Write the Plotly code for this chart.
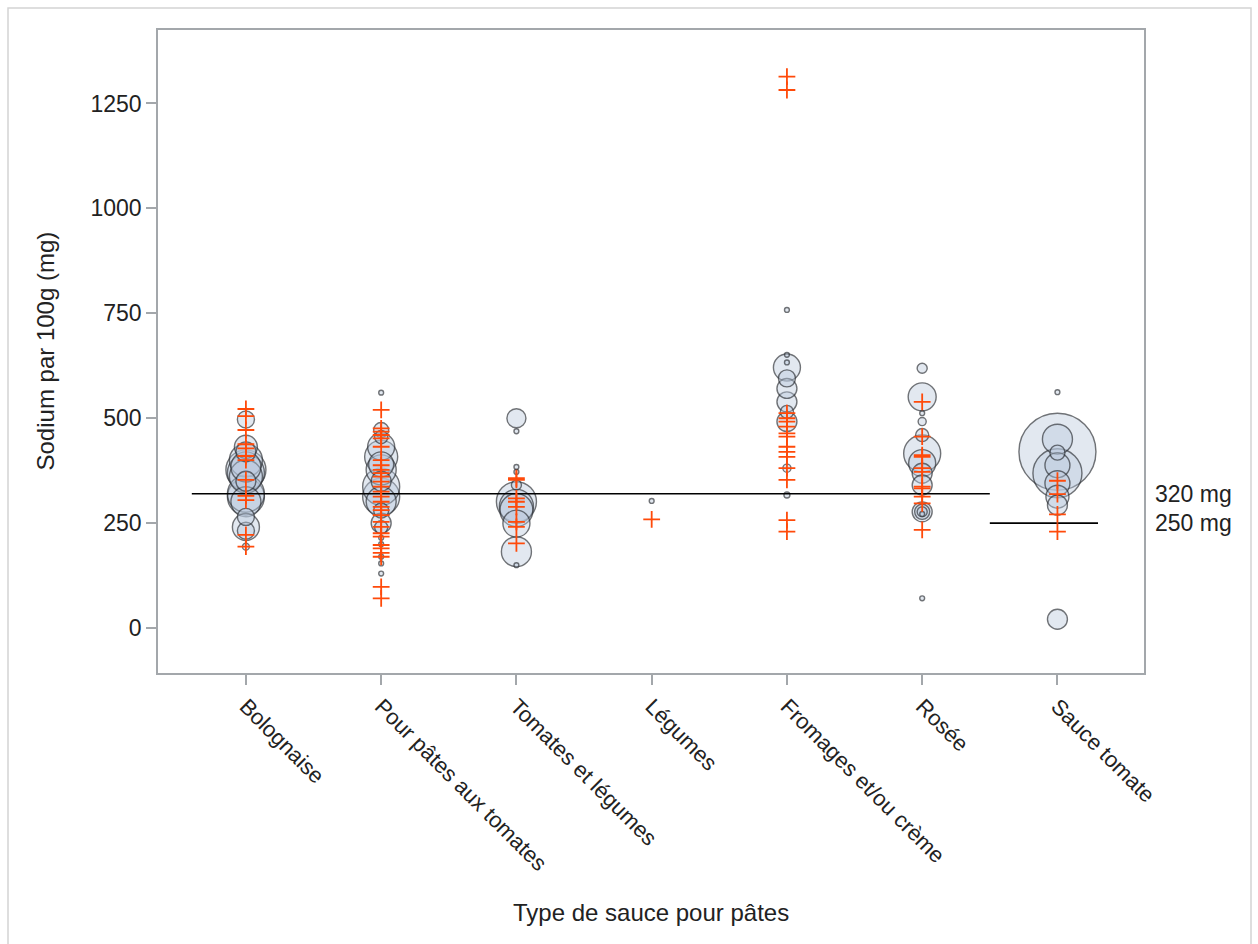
import numpy as np
import plotly.graph_objects as go

# ---------------- data ----------------
categories = ["Bolognaise", "Pour pâtes aux tomates", "Tomates et légumes", "Légumes",
              "Fromages et/ou crème", "Rosée", "Sauce tomate"]

# bubble series: sodium (mg/100g) and volume (relative, bubble area)
bub_bolognaise = [497, 432, 420, 400, 384, 377, 370, 361, 350, 320, 313, 301, 265, 241, 232, 194]
vol_bolognaise = [4.9, 8.9, 6.7, 18.4, 15.2, 27, 23.1, 18.4, 6.7, 23.1, 23.1, 15.2, 4.9, 12.3, 4.9, 0.8]

bub_tomates = [561, 472, 455, 432, 408, 390, 377, 350, 337, 313, 301, 280, 250, 240, 215, 200, 170, 154, 130]
vol_tomates = [0.4, 3.8, 2.9, 12.3, 18.4, 10.5, 15.2, 6.7, 23.1, 23.1, 15.2, 3.8, 6.7, 2.9, 0.4, 0.4, 0.4, 0.4, 0.4]

bub_tom_leg = [500, 469, 384, 372, 341, 301, 290, 281, 249, 182, 150]
vol_tom_leg = [6.1, 0.4, 0.4, 0.4, 1.7, 27, 19.5, 18.4, 12.3, 15.2, 0.4]

bub_legumes = [303]
vol_legumes = [0.4]

bub_fromages = [758, 651, 633, 621, 595, 571, 539, 515, 492, 381, 317]
vol_fromages = [0.4, 0.4, 0.4, 12.3, 4.9, 6.7, 6.7, 2.9, 6.7, 1.1, 0.6]

bub_rosee = [619, 551, 512, 492, 460, 416, 393, 369, 341, 277, 277, 277, 272, 71]
vol_rosee = [1.7, 13.2, 0.4, 1.1, 2.9, 23.1, 12.3, 6.7, 6.7, 6.7, 3.8, 1.7, 0.4, 0.4]

bub_sauce = [562, 420, 450, 418, 388, 369, 345, 313, 293, 21]
vol_sauce = [0.4, 100, 15.2, 3.8, 10.5, 40.5, 10.5, 8.9, 6.7, 6.7]

# cross series: sodium (mg/100g)
pts_bolognaise = [522, 505, 472, 438, 428, 410, 400, 353, 315, 305, 222, 194]
pts_tomates = [520, 476, 468, 460, 452, 432, 400, 388, 377, 369, 361, 349, 337, 325, 313,
               301, 289, 281, 269, 253, 241, 226, 218, 198, 190, 179, 170, 98, 71]
pts_tom_leg = [357, 353, 309, 301, 289, 253, 241, 202]
pts_legumes = [259]
pts_fromages = [1314, 1282, 512, 500, 492, 480, 464, 456, 432, 420, 408, 381, 353, 257, 230]
pts_rosee = [539, 456, 412, 408, 381, 372, 337, 333, 313, 297, 234]
pts_sauce = [351, 319, 271, 230]

ref_general = 320
ref_sauce = 250
y_ticks = [0, 250, 500, 750, 1000, 1250]

bubbles = [bub_bolognaise, bub_tomates, bub_tom_leg, bub_legumes, bub_fromages, bub_rosee, bub_sauce]
volumes = [vol_bolognaise, vol_tomates, vol_tom_leg, vol_legumes, vol_fromages, vol_rosee, vol_sauce]
points = [pts_bolognaise, pts_tomates, pts_tom_leg, pts_legumes, pts_fromages, pts_rosee, pts_sauce]

# ---------------- figure ----------------
FONT = "Liberation Sans, Arial, sans-serif"
TXT = "#222222"
AX = "#a3a7ab"
K = 7.7  # diameter scale

fig = go.Figure()

bx, by, bs = [], [], []
for i, (ys, vs) in enumerate(zip(bubbles, volumes)):
    bx += [i] * len(ys)
    by += ys
    bs += [K * np.sqrt(v) for v in vs]
order = np.argsort(bs)[::-1]
fig.add_trace(go.Scatter(
    x=[bx[j] for j in order], y=[by[j] for j in order], mode="markers",
    marker=dict(size=[bs[j] for j in order], sizemode="diameter", sizeref=1,
                color="rgba(187,202,222,0.6)", line=dict(color="#33373d", width=1.4)),
    hoverinfo="skip", showlegend=False))

# reference lines
fig.add_trace(go.Scatter(x=[-0.4, 5.5], y=[ref_general, ref_general], mode="lines",
                         line=dict(color="black", width=1.6), showlegend=False, hoverinfo="skip"))
fig.add_trace(go.Scatter(x=[5.5, 6.3], y=[ref_sauce, ref_sauce], mode="lines",
                         line=dict(color="black", width=1.6), showlegend=False, hoverinfo="skip"))

px_, py_ = [], []
for i, ys in enumerate(points):
    px_ += [i] * len(ys)
    py_ += ys
fig.add_trace(go.Scatter(
    x=px_, y=py_, mode="markers",
    marker=dict(symbol="cross-thin", size=12, line=dict(color="#ff4a0a", width=1.8)),
    showlegend=False, hoverinfo="skip"))

fig.update_layout(
    width=1258, height=944,
    margin=dict(l=158, r=114, t=30, b=271),
    paper_bgcolor="white", plot_bgcolor="white",
    font=dict(family=FONT, size=23, color=TXT),
    xaxis=dict(range=[-0.65, 6.64], tickvals=list(range(len(categories))), ticktext=categories,
               tickangle=45, showline=True, linecolor=AX, linewidth=1.5, mirror=True,
               ticks="outside", ticklen=10, tickcolor=AX, tickwidth=1.5,
               showgrid=False, zeroline=False, tickfont=dict(size=22, color=TXT)),
    yaxis=dict(range=[-107, 1425], tickvals=y_ticks, showline=True, linecolor=AX, linewidth=1.5,
               mirror=True, ticks="outside", ticklen=10, tickcolor=AX, tickwidth=1.5,
               showgrid=False, zeroline=False, tickfont=dict(size=23, color=TXT)),
    annotations=[
        dict(text="Type de sauce pour pâtes", xref="paper", yref="paper", x=0.5, y=(673 - 912) / 643,
             xanchor="center", yanchor="middle", showarrow=False, font=dict(size=24, color=TXT)),
        dict(text="Sodium par 100g (mg)", xref="paper", yref="paper", x=(45 - 158) / 986, y=0.5,
             xanchor="center", yanchor="middle", textangle=-90, showarrow=False,
             font=dict(size=24, color=TXT)),
        dict(text="320 mg", xref="paper", yref="y", x=(1153 - 158) / 986, y=ref_general,
             xanchor="left", yanchor="middle", showarrow=False, font=dict(size=23, color=TXT)),
        dict(text="250 mg", xref="paper", yref="y", x=(1153 - 158) / 986, y=ref_sauce,
             xanchor="left", yanchor="middle", showarrow=False, font=dict(size=23, color=TXT)),
    ],
    shapes=[dict(type="rect", xref="paper", yref="paper",
                 x0=(8 - 158) / 986, x1=(1251 - 158) / 986, y0=(673 - 960) / 643, y1=(673 - 8) / 643,
                 line=dict(color="#d4d4d4", width=1.5), fillcolor="rgba(0,0,0,0)", layer="below")],
)

fig.write_html("out.html")
